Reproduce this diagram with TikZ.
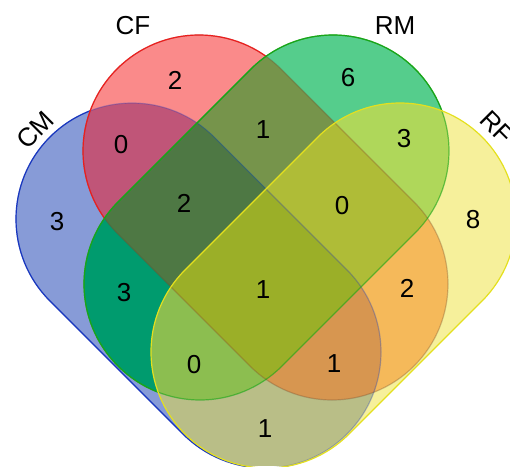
\documentclass[tikz,border=0pt]{standalone}
\usepackage{fontspec}
\setmainfont{Liberation Sans}
\definecolor{cA}{RGB}{135,155,215}
\definecolor{cB}{RGB}{250,138,138}
\definecolor{cC}{RGB}{85,205,140}
\definecolor{cD}{RGB}{246,240,155}
\definecolor{cAB}{RGB}{192,85,120}
\definecolor{cBC}{RGB}{118,148,75}
\definecolor{cCD}{RGB}{175,215,90}
\definecolor{cAC}{RGB}{0,155,110}
\definecolor{cBD}{RGB}{245,185,90}
\definecolor{cAD}{RGB}{185,190,135}
\definecolor{cABC}{RGB}{78,120,68}
\definecolor{cBCD}{RGB}{175,188,55}
\definecolor{cACD}{RGB}{140,190,80}
\definecolor{cABD}{RGB}{215,150,80}
\definecolor{cABCD}{RGB}{155,175,40}
\definecolor{cmline}{RGB}{25,55,190}
\definecolor{cfline}{RGB}{235,30,30}
\definecolor{rmline}{RGB}{25,165,25}
\definecolor{rfline}{RGB}{228,224,30}
\definecolor{dimline}{RGB}{110,70,40}
\newcommand\vstad{(0,-116) -- (188.1,-116) arc[start angle=-90,end angle=90,radius=116] -- (0,116) arc[start angle=90,end angle=270,radius=116] -- cycle}
\newcommand\vbig{(-1000,-1000) rectangle (1000,1000)}
\newcommand\vfillone[2]{\begin{scope}\clip[#1]\vstad;\fill[#2] (0,0) rectangle (510,466);\end{scope}}
\newcommand\vfilltwo[3]{\begin{scope}\clip[#1]\vstad;\clip[#2]\vstad;\fill[#3] (0,0) rectangle (510,466);\end{scope}}
\newcommand\vfillthree[4]{\begin{scope}\clip[#1]\vstad;\clip[#2]\vstad;\clip[#3]\vstad;\fill[#4] (0,0) rectangle (510,466);\end{scope}}
\tikzset{
  tCM/.style={shift={(132,247)},rotate=-45},
  tCF/.style={shift={(199,315)},rotate=-45},
  tRM/.style={shift={(333,315)},rotate=-135},
  tRF/.style={shift={(400,247)},rotate=-135},
  edge/.style={line width=1.2pt},
  num/.style={font=\fontsize{26}{26}\selectfont, inner sep=0pt},
  setlabel/.style={font=\fontsize{26}{26}\selectfont, inner sep=0pt},
}
\begin{document}
\begin{tikzpicture}[x=1pt,y=1pt]
\useasboundingbox (0,0) rectangle (510,466);
\clip (0,0) rectangle (510,466);
% single sets
\vfillone{tCM}{cA}
\vfillone{tCF}{cB}
\vfillone{tRM}{cC}
\vfillone{tRF}{cD}
% pairs
\vfilltwo{tCM}{tCF}{cAB}
\vfilltwo{tCF}{tRM}{cBC}
\vfilltwo{tRM}{tRF}{cCD}
\vfilltwo{tCM}{tRM}{cAC}
\vfilltwo{tCF}{tRF}{cBD}
\vfilltwo{tCM}{tRF}{cAD}
% triples
\vfillthree{tCM}{tCF}{tRM}{cABC}
\vfillthree{tCF}{tRM}{tRF}{cBCD}
\vfillthree{tCM}{tRM}{tRF}{cACD}
\vfillthree{tCM}{tCF}{tRF}{cABD}
% all four
\begin{scope}
\clip[tCM]\vstad; \clip[tCF]\vstad; \clip[tRM]\vstad; \clip[tRF]\vstad;
\fill[cABCD] (0,0) rectangle (510,466);
\end{scope}
% edges: CM
\draw[tCM, edge, cmline, draw opacity=0.3] \vstad;
\begin{scope}[even odd rule]
\clip[tCF] \vbig \vstad;
\clip[tRM] \vbig \vstad;
\clip[tRF] \vbig \vstad;
\draw[tCM, edge, cmline] \vstad;
\end{scope}
% edges: CF
\draw[tCF, edge, dimline, draw opacity=0.3] \vstad;
\begin{scope}[even odd rule]
\clip[tRM] \vbig \vstad;
\clip[tRF] \vbig \vstad;
\draw[tCF, edge, cfline] \vstad;
\end{scope}
% edges: RM
\draw[tRM, edge, rmline, draw opacity=0.6] \vstad;
\begin{scope}[even odd rule]
\clip[tRF] \vbig \vstad;
\draw[tRM, edge, rmline] \vstad;
\end{scope}
% edges: RF
\draw[tRF, edge, rfline] \vstad;
% set labels
\node[setlabel] (lcf) at (133,440) {CF};
\node[setlabel] (lrm) at (395,440) {RM};
\node[setlabel, rotate=45] (lcm) at (35,336) {CM};
\node[setlabel, rotate=-45] (lrf) at (497,339) {RF};
% counts
\node[num] (n1) at (175,386) {2};
\node[num] (n2) at (348,388) {6};
\node[num] (n3) at (57,244) {3};
\node[num] (n4) at (473,246) {8};
\node[num] (n5) at (121,321) {0};
\node[num] (n6) at (263,336) {1};
\node[num] (n7) at (404,327) {3};
\node[num] (n8) at (184,263) {2};
\node[num] (n9) at (342,260) {0};
\node[num] (n10) at (263,176) {1};
\node[num] (n11) at (124,173) {3};
\node[num] (n12) at (407,178) {2};
\node[num] (n13) at (194,101) {0};
\node[num] (n14) at (334,102) {1};
\node[num] (n15) at (265,37) {1};
\end{tikzpicture}
\end{document}
